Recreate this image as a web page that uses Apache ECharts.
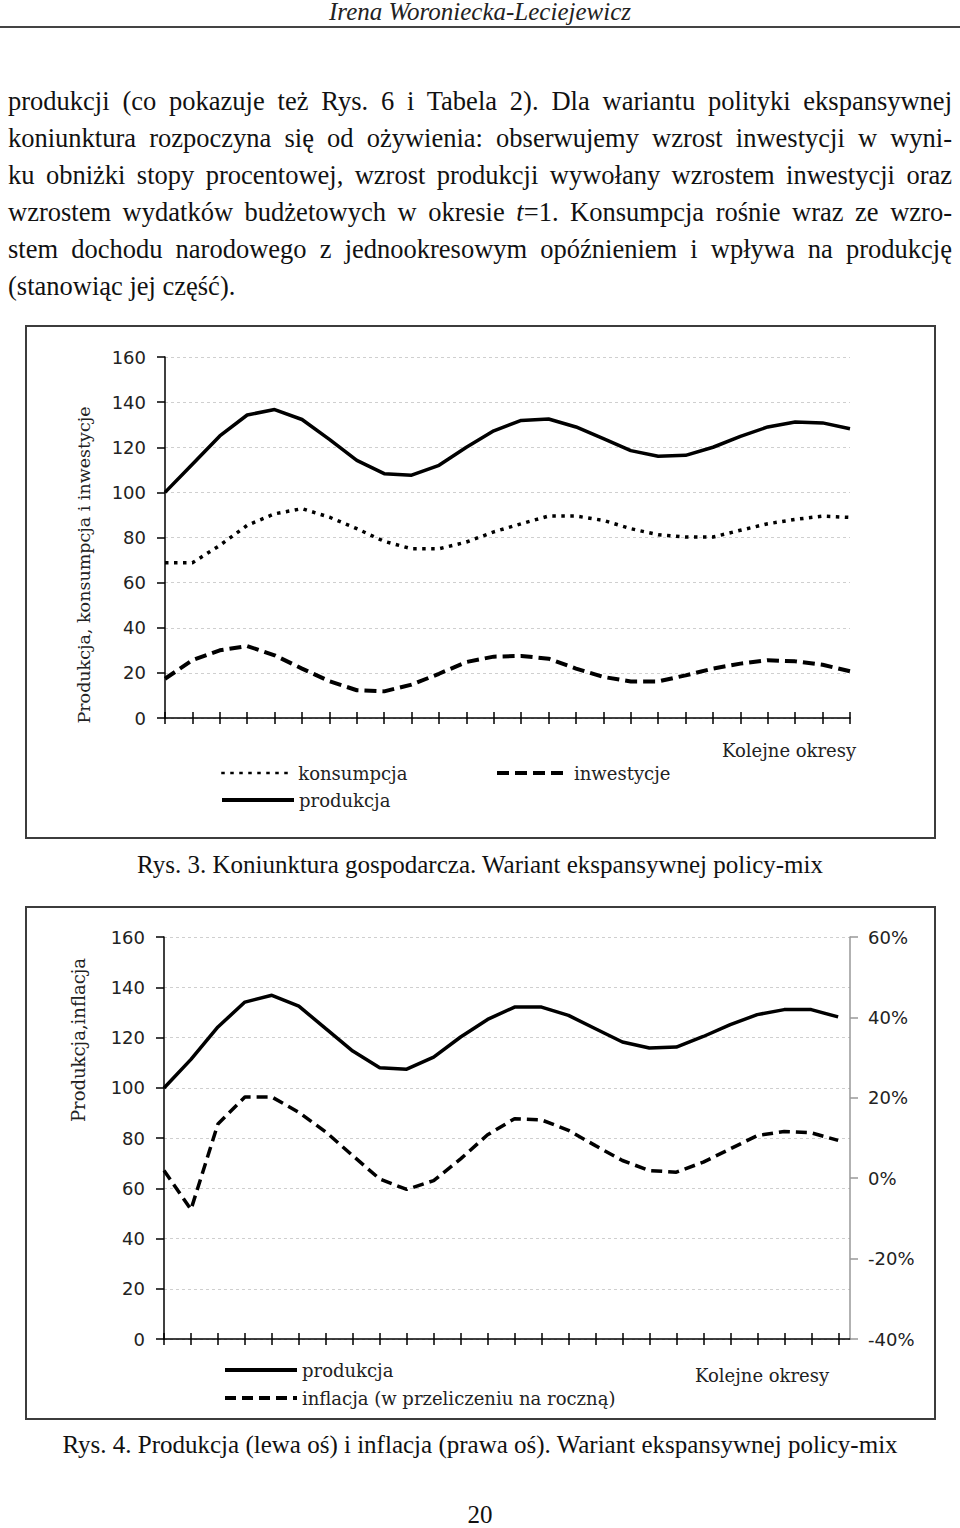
<!DOCTYPE html>
<html><head><meta charset="utf-8">
<script src="https://cdn.jsdelivr.net/npm/echarts@6/dist/echarts.min.js"></script>
<style>
html,body{margin:0;padding:0;background:#fff;}
body{width:960px;height:1528px;position:relative;overflow:hidden;font-family:"Liberation Serif","Times New Roman",serif;color:#111;}
.hdr{position:absolute;left:0;top:1px;width:960px;text-align:center;font-style:italic;font-size:25px;line-height:22px;color:#222;}
.rule{position:absolute;left:0;top:26px;width:960px;height:2px;background:#444;}
.ln{position:absolute;left:8px;width:944px;font-size:26.5px;line-height:37.2px;text-align:justify;text-align-last:justify;}
.ln.last{text-align:left;text-align-last:left;}
.cap{position:absolute;left:0;width:960px;text-align:center;font-size:25px;line-height:30px;}
.box{position:absolute;left:25px;width:911px;height:514px;border:2px solid #3c3c3c;box-sizing:border-box;}
</style></head>
<body>
<div class="hdr">Irena Woroniecka-Leciejewicz</div>
<div class="rule"></div>
<div class="ln" style="top:83px">produkcji (co pokazuje też Rys. 6 i Tabela 2). Dla wariantu polityki ekspansywnej</div>
<div class="ln" style="top:120px">koniunktura rozpoczyna się od ożywienia: obserwujemy wzrost inwestycji w wyni-</div>
<div class="ln" style="top:157px">ku obniżki stopy procentowej, wzrost produkcji wywołany wzrostem inwestycji oraz</div>
<div class="ln" style="top:194px">wzrostem wydatków budżetowych w okresie <i>t</i>=1. Konsumpcja rośnie wraz ze wzro-</div>
<div class="ln" style="top:231px">stem dochodu narodowego z jednookresowym opóźnieniem i wpływa na produkcję</div>
<div class="ln last" style="top:268px">(stanowiąc jej część).</div>
<div id="c1" class="box" style="top:325px"></div>
<div class="cap" style="top:850px">Rys. 3. Koniunktura gospodarcza. Wariant ekspansywnej policy-mix</div>
<div id="c2" class="box" style="top:906px"></div>
<div class="cap" style="top:1430px">Rys. 4. Produkcja (lewa oś) i inflacja (prawa oś). Wariant ekspansywnej policy-mix</div>
<div class="cap" style="top:1500px">20</div>
<script>
// ---- data ----
var okresy = [0,1,2,3,4,5,6,7,8,9,10,11,12,13,14,15,16,17,18,19,20,21,22,23,24,25];
// Rys. 3
var produkcja1 = [100, 112.5, 125, 134.3, 136.7, 132.3, 123.5, 114.2, 108.3, 107.6, 112, 120, 127.3, 131.9, 132.5, 129, 123.8, 118.5, 116, 116.4, 120, 124.8, 129, 131.2, 130.8, 128.2];
var konsumpcja = [68.8, 68.8, 76.5, 85.4, 90.5, 92.8, 89, 83.9, 78.3, 75, 75, 78, 82.5, 86.1, 89.5, 89.5, 87.6, 83.9, 81.2, 80.2, 80.2, 83.2, 86.1, 88, 89.5, 88.9];
var inwestycje = [17.4, 25.6, 30, 31.9, 27.8, 21.9, 16.3, 12.3, 11.8, 14.8, 19.6, 24.8, 27.2, 27.5, 26.3, 21.9, 18.2, 16.2, 16.2, 18.9, 21.9, 24.1, 25.6, 25.1, 23.6, 20.7];
// Rys. 4
var produkcja2 = [99.9, 111.3, 124.2, 134.1, 136.8, 132.5, 123.5, 114.6, 108, 107.4, 112.2, 120.2, 127.2, 132.1, 132.1, 128.8, 123.5, 118.2, 115.8, 116.2, 120.4, 125.1, 129.1, 131.1, 131.1, 128.2];
var inflacja = [1.9, -7.8, 13.5, 20.2, 20.2, 16.4, 11.5, 5.6, -0.2, -2.8, -0.6, 4.8, 10.8, 14.8, 14.5, 11.9, 8.1, 4.4, 1.9, 1.5, 4, 7.3, 10.6, 11.6, 11.3, 9.4];
var leftTicks = {min:0, max:160, interval:20};
var rightTicks = {min:-40, max:60, interval:20};

function pairs(arr){ return arr.map(function(v,i){ return [okresy[i], v]; }); }

var numFont = '"DejaVu Sans", sans-serif';
var serFont = '"DejaVu Serif", serif';
var gridLine = {lineStyle:{color:'#cfcfcf', type:[3,3], width:1}};
var tickStyle = {color:'#000', width:1.5};

// axis line only (grid 0) + two tick-only axes (grid 1) so ticks cross the line
function xAxes(lineMax, tickMax){
  var base = {type:'value', min:0, interval:1, position:'bottom', axisLabel:{show:false}, splitLine:{show:false}};
  return [
    Object.assign({}, base, {gridIndex:0, max:lineMax,
      axisLine:{show:true, onZero:false, lineStyle:{color:'#000', width:1.5}}, axisTick:{show:false}}),
    Object.assign({}, base, {gridIndex:1, max:tickMax, axisLine:{show:false, onZero:false},
      axisTick:{show:true, length:6, lineStyle:tickStyle}}),
    Object.assign({}, base, {gridIndex:1, max:tickMax, axisLine:{show:false, onZero:false},
      axisTick:{show:true, inside:true, length:6, lineStyle:tickStyle}})
  ];
}
function leftAxis(){
  return {type:'value', gridIndex:0, min:leftTicks.min, max:leftTicks.max, interval:leftTicks.interval, position:'left',
    axisLine:{show:true, onZero:false, lineStyle:{color:'#000', width:1.5}},
    axisTick:{show:true, length:8, lineStyle:tickStyle},
    axisLabel:{margin:19, fontSize:18, fontFamily:numFont, color:'#222'},
    splitLine:Object.assign({show:true}, gridLine)};
}
function hiddenY(){
  return {type:'value', gridIndex:1, min:0, max:1, show:false};
}
function legend(name, left, cy, lw){
  return {data:[name], left:left, top:cy-10, padding:0, itemWidth:72, itemHeight:20,
    lineStyle:{width:lw}, itemStyle:{opacity:0}, selectedMode:false,
    textStyle:{fontFamily:serFont, fontSize:18, color:'#222', lineHeight:20}};
}

var c1 = echarts.init(document.getElementById('c1'), null, {renderer:'svg'});
c1.setOption({
  animation:false,
  grid:[{left:138, top:30, width:685, height:361},{left:138, top:30, width:685, height:361}],
  xAxis: xAxes(25, 25),
  yAxis: [leftAxis(), hiddenY()],
  legend:[
    legend('konsumpcja', 193, 446, 2.5),
    legend('inwestycje', 468, 446, 4),
    legend('produkcja', 193, 473, 4)
  ],
  graphic:[
    {type:'text', x:57, y:238, rotation:Math.PI/2,
     style:{text:'Produkcja, konsumpcja i inwestycje', font:'17.5px ' + serFont, fill:'#222', align:'center', verticalAlign:'middle'}},
    {type:'text', x:695, y:423,
     style:{text:'Kolejne okresy', font:'18px ' + serFont, fill:'#222', align:'left', verticalAlign:'middle'}}
  ],
  series:[
    {name:'konsumpcja', type:'line', symbol:'none', data:pairs(konsumpcja), itemStyle:{color:'#000'},
     lineStyle:{color:'#000', width:3.5, type:[3.5,5.5]}},
    {name:'inwestycje', type:'line', symbol:'none', data:pairs(inwestycje), itemStyle:{color:'#000'},
     lineStyle:{color:'#000', width:4, type:[12,6]}},
    {name:'produkcja', type:'line', symbol:'none', data:pairs(produkcja1), itemStyle:{color:'#000'},
     lineStyle:{color:'#000', width:3.5}}
  ]
});

var c2 = echarts.init(document.getElementById('c2'), null, {renderer:'svg'});
c2.setOption({
  animation:false,
  grid:[{left:137, top:29, width:686, height:402},{left:137, top:29, width:674.3, height:402}],
  xAxis: xAxes(25.44, 25),
  yAxis:[
    leftAxis(),
    {type:'value', gridIndex:0, min:rightTicks.min, max:rightTicks.max, interval:rightTicks.interval, position:'right',
     axisLine:{show:true, onZero:false, lineStyle:{color:'#999', width:1.5}},
     axisTick:{show:true, length:8, lineStyle:{color:'#999', width:1.5}},
     axisLabel:{margin:18, fontSize:18, fontFamily:numFont, color:'#222', formatter:'{value}%'},
     splitLine:{show:false}},
    hiddenY()
  ],
  legend:[
    legend('produkcja', 196, 462, 4),
    legend('inflacja (w przeliczeniu na roczną)', 196, 490, 4)
  ],
  graphic:[
    {type:'text', x:51, y:132, rotation:Math.PI/2,
     style:{text:'Produkcja,inflacja', font:'18px ' + serFont, fill:'#222', align:'center', verticalAlign:'middle'}},
    {type:'text', x:668, y:467,
     style:{text:'Kolejne okresy', font:'18px ' + serFont, fill:'#222', align:'left', verticalAlign:'middle'}}
  ],
  series:[
    {name:'produkcja', type:'line', symbol:'none', data:pairs(produkcja2), itemStyle:{color:'#000'},
     lineStyle:{color:'#000', width:3.5}},
    {name:'inflacja (w przeliczeniu na roczną)', type:'line', symbol:'none', yAxisIndex:1, data:pairs(inflacja),
     itemStyle:{color:'#000'}, lineStyle:{color:'#000', width:3.5, type:[11,6]}}
  ]
});
</script>
</body></html>
